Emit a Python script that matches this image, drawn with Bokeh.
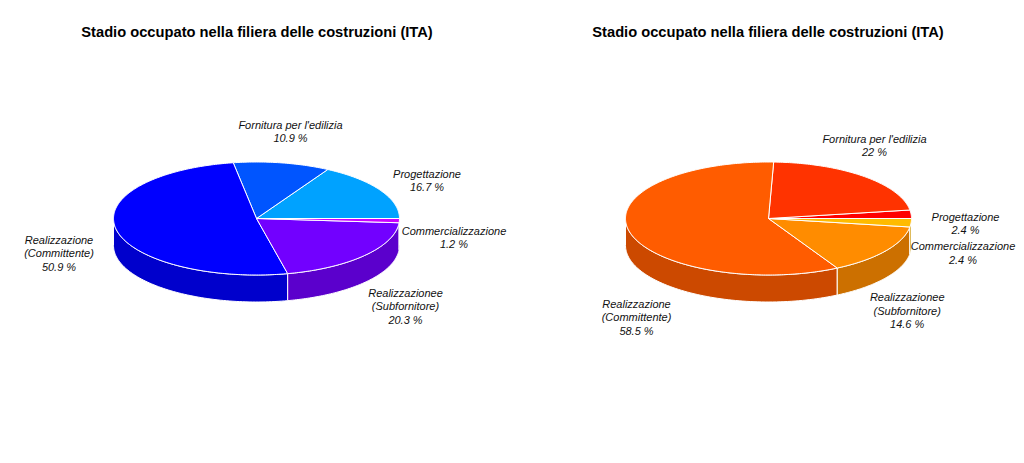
import numpy as np
from bokeh.plotting import figure
from bokeh.models import Range1d
from bokeh.core.properties import value
from bokeh.embed import file_html
from bokeh.resources import INLINE

# ---------------- data ----------------
chart_title = "Stadio occupato nella filiera delle costruzioni (ITA)"
categories = ["Progettazione", "Fornitura per l'edilizia", "Realizzazione (Committente)",
              "Realizzazionee (Subfornitore)", "Commercializzazione"]
label_lines = [["Progettazione"], ["Fornitura per l'edilizia"], ["Realizzazione", "(Committente)"],
               ["Realizzazionee", "(Subfornitore)"], ["Commercializzazione"]]
values_left = [16.7, 10.9, 50.9, 20.3, 1.2]
values_right = [2.4, 22.0, 58.5, 14.6, 2.4]
colors_left = ["#00A2FF", "#0055FF", "#0000FF", "#7200FF", "#CC00FF"]
colors_right = ["#FF0000", "#FF3300", "#FF5C00", "#FF8C00", "#FFBB00"]

# ---------------- layout ----------------
W, H = 1016, 455
RX, RY, DEPTH = 143, 56.5, 27
SHADE = 0.8
LINE_H = 13.5
charts = [
    dict(cx=256, cy=218, tx=256.5, values=values_left, colors=colors_left,
         label_off=[(170.5, -44.7), (34, -94), (-197.5, 21.3), (149, 74.3), (197.5, 12)]),
    dict(cx=768, cy=218, tx=767.5, values=values_right, colors=colors_right,
         label_off=[(197, -2), (106, -79.7), (-132, 85.3), (138.7, 78.7), (194.5, 27.7)]),
]


def shade(hexcol, f):
    h = hexcol.lstrip("#")
    r, g, b = (int(h[i:i + 2], 16) for i in (0, 2, 4))
    return "#%02X%02X%02X" % (int(r * f), int(g * f), int(b * f))


p = figure(width=W, height=H, output_backend="svg", toolbar_location=None,
           x_range=Range1d(0, W), y_range=Range1d(H, 0),
           min_border=0, background_fill_color="white", border_fill_color="white")
p.axis.visible = False
p.grid.visible = False
p.outline_line_color = None

for ch in charts:
    cx, cy = ch["cx"], ch["cy"]
    vals = np.array(ch["values"], dtype=float)
    edges = np.concatenate([[0.0], np.cumsum(vals) / vals.sum()]) * 2 * np.pi

    # sides (front half only: angles between pi and 2pi)
    sx, sy, sc = [], [], []
    for i in range(len(vals)):
        a0, a1 = max(edges[i], np.pi), min(edges[i + 1], 2 * np.pi)
        if a1 <= a0:
            continue
        t = np.linspace(a0, a1, 80)
        xt = cx + RX * np.cos(t)
        yt = cy - RY * np.sin(t)
        sx.append(np.concatenate([xt, xt[::-1]]))
        sy.append(np.concatenate([yt, yt[::-1] + DEPTH]))
        sc.append(shade(ch["colors"][i], SHADE))
    p.patches(sx, sy, fill_color=sc, line_color="white", line_width=1)

    # tops
    tx_, ty_ = [], []
    for i in range(len(vals)):
        n = max(4, int((edges[i + 1] - edges[i]) / (2 * np.pi) * 400))
        t = np.linspace(edges[i], edges[i + 1], n)
        tx_.append(np.concatenate([[cx], cx + RX * np.cos(t)]))
        ty_.append(np.concatenate([[cy], cy - RY * np.sin(t)]))
    p.patches(tx_, ty_, fill_color=ch["colors"], line_color="white", line_width=1)

    # labels
    lx, ly, lt = [], [], []
    for i, lines in enumerate(label_lines):
        dx, dy = ch["label_off"][i]
        allines = lines + ["%g %%" % ch["values"][i]]
        for k, s in enumerate(allines):
            lx.append(cx + dx)
            ly.append(cy + dy + k * LINE_H)
            lt.append(s)
    p.text(x=lx, y=ly, text=lt, text_font=value("Liberation Sans"), text_font_style="italic",
           text_font_size="11px", text_align="center", text_baseline="middle", text_color="#111111")

    p.text(x=[ch["tx"]], y=[31], text=[chart_title], text_font=value("Liberation Sans"),
           text_font_style="bold", text_font_size="14.7px", text_align="center",
           text_baseline="middle", text_color="#000000")

open("out.html", "w").write(file_html(p, INLINE))
